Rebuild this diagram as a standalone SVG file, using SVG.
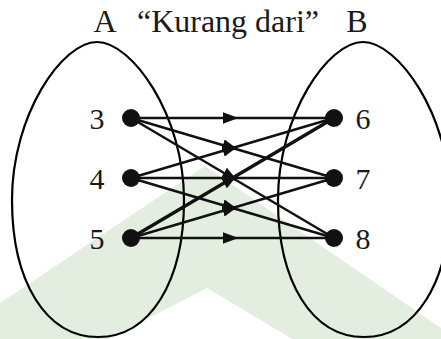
<svg xmlns="http://www.w3.org/2000/svg" width="441" height="339" viewBox="0 0 441 339">
  <defs>
    <style>
      .t { font-family: "Liberation Serif", "Times New Roman", serif; fill: #1a1a1a; }
      .title { font-size: 32px; }
      .num { font-size: 30px; text-anchor: middle; }
      .set { fill: none; stroke: #000; stroke-width: 2.2; }
      .dot { fill: #111; }
      .edge { fill: none; stroke: #111; stroke-width: 2.5; marker-mid: url(#arr); }
      .thick { stroke-width: 3.4; }
    </style>
    <marker id="arr" markerUnits="userSpaceOnUse" markerWidth="16" markerHeight="12" viewBox="0 0 16 12" refX="10" refY="6" orient="auto">
      <path d="M0,0 L16,6 L0,12 z" fill="#111"/>
    </marker>
  </defs>
  <rect width="441" height="339" fill="#fff"/>
  <polygon points="0,303 205,166 441,328 441,339 292,339 207,288 108,339 0,339" fill="#e3eee0"/>

  <g id="setA">
    <path class="set" d="M97,42 C132,42 184,115 184,200 C184,282 150,337 98,337 C46,337 12,282 12,200 C12,115 62,42 97,42 Z"/>
  </g>
  <g id="setB">
    <path class="set" d="M363,42 C398,42 450,115 450,200 C450,282 416,337 364,337 C312,337 278,282 278,200 C278,115 328,42 363,42 Z"/>
  </g>

  <g id="title">
    <text class="t title" x="105" y="32" text-anchor="middle">A</text>
    <text class="t title" x="228" y="32" text-anchor="middle">“Kurang dari”</text>
    <text class="t title" x="357" y="32" text-anchor="middle">B</text>
  </g>

  <g id="connectors">
    <path class="edge" d="M131,118 L232.5,118 L334,118"/>
    <path class="edge" d="M131,118 L232.5,148 L334,178"/>
    <path class="edge" d="M131,118 L232.5,178 L334,238"/>
    <path class="edge" d="M131,178 L232.5,148 L334,118"/>
    <path class="edge" d="M131,178 L232.5,178 L334,178"/>
    <path class="edge" d="M131,178 L232.5,208 L334,238"/>
    <path class="edge thick" d="M131,238 L232.5,178 L334,118"/>
    <path class="edge" d="M131,238 L232.5,208 L334,178"/>
    <path class="edge" d="M131,238 L232.5,238 L334,238"/>
  </g>

  <g id="n3"><circle class="dot" cx="131" cy="118" r="9"/><text class="t num" x="97" y="129">3</text></g>
  <g id="n4"><circle class="dot" cx="131" cy="178" r="9"/><text class="t num" x="97" y="189">4</text></g>
  <g id="n5"><circle class="dot" cx="131" cy="238" r="9" fill="#000"/><text class="t num" x="97" y="249">5</text></g>
  <g id="n6"><circle class="dot" cx="334" cy="118" r="9"/><text class="t num" x="363" y="129">6</text></g>
  <g id="n7"><circle class="dot" cx="334" cy="178" r="9"/><text class="t num" x="363" y="189">7</text></g>
  <g id="n8"><circle class="dot" cx="334" cy="238" r="9"/><text class="t num" x="363" y="249">8</text></g>
</svg>
